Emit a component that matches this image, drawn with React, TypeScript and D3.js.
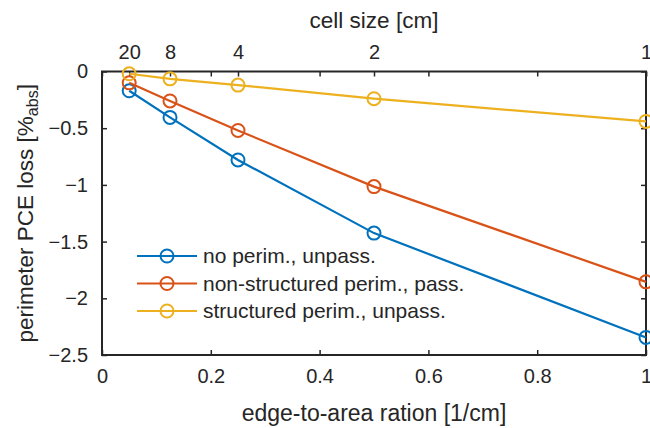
import * as React from 'react';
import * as d3 from 'd3';

// edge-to-area ratio [1/cm] for each cell size
const ratios = [0.05, 0.125, 0.25, 0.5, 1];
const cellSizes = ['20', '8', '4', '2', '1'];
const noPerim = [-0.17, -0.405, -0.78, -1.425, -2.345];
const nonStructured = [-0.1, -0.26, -0.52, -1.015, -1.855];
const structured = [-0.02, -0.065, -0.12, -0.24, -0.44];
const seriesNames = ['no perim., unpass.', 'non-structured perim., pass.', 'structured perim., unpass.'];
const seriesColors = ['#0072BD', '#D95319', '#EDB120'];
const xTicks = [0, 0.2, 0.4, 0.6, 0.8, 1];
const yTicks = [0, -0.5, -1, -1.5, -2, -2.5];

export default function App() {
  const ref = React.useRef<SVGSVGElement>(null);

  React.useEffect(() => {
    const width = 650;
    const height = 428;
    const margin = { top: 71.5, right: 4, bottom: 73, left: 102 };
    const innerWidth = width - margin.left - margin.right;
    const innerHeight = height - margin.top - margin.bottom;
    const ink = '#262626';
    const font = '"Liberation Sans", Arial, Helvetica, sans-serif';

    const svg = d3.select(ref.current);
    svg.selectAll('*').remove();

    const x = d3.scaleLinear().domain([0, 1]).range([0, innerWidth]);
    const y = d3.scaleLinear().domain([-2.5, 0]).range([innerHeight, 0]);

    const g = svg.append('g')
      .attr('transform', `translate(${margin.left},${margin.top})`)
      .style('font-family', font);

    // bottom axis, ticks inward
    const bottom = g.append('g')
      .attr('transform', `translate(0,${innerHeight})`)
      .call(d3.axisBottom(x).tickValues(xTicks).tickSizeInner(-5).tickSizeOuter(0)
        .tickPadding(14).tickFormat(d3.format('')));
    // mirrored ticks on top (box on)
    const topBox = g.append('g')
      .call(d3.axisTop(x).tickValues(xTicks).tickSizeInner(-5).tickSizeOuter(0).tickFormat(() => ''));
    // top cell size axis
    const topAxis = g.append('g')
      .call(d3.axisTop(x).tickValues(ratios).tickSizeInner(-5).tickSizeOuter(0)
        .tickPadding(13).tickFormat((d, i) => cellSizes[i]));
    const left = g.append('g')
      .call(d3.axisLeft(y).tickValues(yTicks).tickSizeInner(-5).tickSizeOuter(0)
        .tickPadding(14).tickFormat(d3.format('')));
    const right = g.append('g')
      .attr('transform', `translate(${innerWidth},0)`)
      .call(d3.axisRight(y).tickValues(yTicks).tickSizeInner(-5).tickSizeOuter(0).tickFormat(() => ''));

    [bottom, topBox, topAxis, left, right].forEach(a => {
      a.select('.domain').remove();
      a.selectAll('line').attr('stroke', ink).attr('stroke-width', 1.5);
      a.selectAll('text').attr('fill', ink).style('font-size', '20px').style('font-family', font);
    });

    // box
    g.append('rect')
      .attr('width', innerWidth)
      .attr('height', innerHeight)
      .attr('fill', 'none')
      .attr('stroke', ink)
      .attr('stroke-width', 2);

    // series
    const data = [noPerim, nonStructured, structured];
    const line = d3.line<number>()
      .x((d, i) => x(ratios[i]))
      .y(d => y(d));

    data.forEach((values, k) => {
      g.append('path')
        .datum(values)
        .attr('d', line)
        .attr('fill', 'none')
        .attr('stroke', seriesColors[k])
        .attr('stroke-width', 2.2);
      g.selectAll(`.dot${k}`)
        .data(values)
        .enter().append('circle')
        .attr('cx', (d, i) => x(ratios[i]))
        .attr('cy', d => y(d))
        .attr('r', 6.5)
        .attr('fill', 'none')
        .attr('stroke', seriesColors[k])
        .attr('stroke-width', 2);
    });

    // axis labels
    svg.append('text')
      .attr('x', margin.left + innerWidth / 2)
      .attr('y', 421)
      .attr('text-anchor', 'middle')
      .attr('fill', ink)
      .style('font-family', font)
      .style('font-size', '23px')
      .text('edge-to-area ration [1/cm]');

    svg.append('text')
      .attr('x', margin.left + innerWidth / 2)
      .attr('y', 28)
      .attr('text-anchor', 'middle')
      .attr('fill', ink)
      .style('font-family', font)
      .style('font-size', '22.5px')
      .text('cell size [cm]');

    const yl = svg.append('text')
      .attr('transform', `translate(33,${margin.top + innerHeight / 2}) rotate(-90)`)
      .attr('text-anchor', 'middle')
      .attr('fill', ink)
      .style('font-family', font)
      .style('font-size', '22.5px');
    yl.append('tspan').text('perimeter PCE loss [%');
    yl.append('tspan').attr('dy', 5).style('font-size', '16px').text('abs');
    yl.append('tspan').attr('dy', -5).text(']');

    // legend
    const legend = svg.append('g')
      .attr('transform', 'translate(137,256)')
      .style('font-family', font);
    seriesNames.forEach((name, k) => {
      const row = legend.append('g').attr('transform', `translate(0,${k * 27.5})`);
      row.append('line')
        .attr('x1', 0).attr('x2', 60)
        .attr('stroke', seriesColors[k])
        .attr('stroke-width', 2.2);
      row.append('circle')
        .attr('cx', 30)
        .attr('r', 6.5)
        .attr('fill', 'none')
        .attr('stroke', seriesColors[k])
        .attr('stroke-width', 2);
      row.append('text')
        .attr('x', 66)
        .attr('dy', '0.35em')
        .attr('fill', ink)
        .style('font-size', '21px')
        .text(name);
    });
  }, []);

  return (
    <svg ref={ref} width={650} height={428}
      style={{ position: 'absolute', left: 0, top: 0, background: 'white' }} />
  );
}
